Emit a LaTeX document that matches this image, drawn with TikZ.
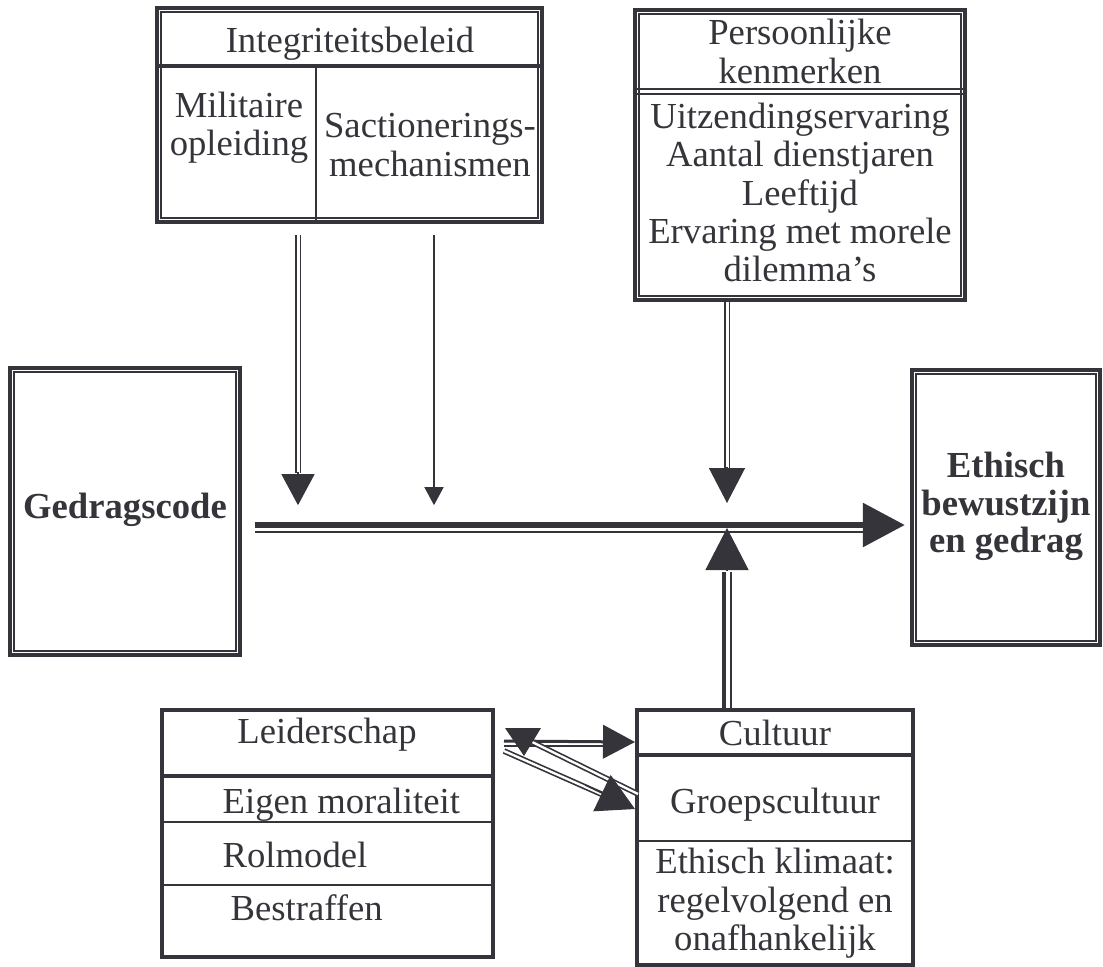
\documentclass[tikz,border=0pt]{standalone}
\usepackage{fontspec}
\setmainfont{Liberation Serif}
\usetikzlibrary{arrows.meta,calc,positioning}
\definecolor{ink}{RGB}{52,52,58}
\tikzset{
  box/.style={draw=ink, line width=1.3pt, inner sep=0pt},
  rim/.style={draw=ink, line width=0.5pt},
  lbl/.style={font=\fontsize{11}{11.5}\selectfont, text=ink, align=center, inner sep=0pt},
  bold lbl/.style={lbl, font=\fontsize{11}{11.2}\selectfont\bfseries},
  sep thick/.style={draw=ink, line width=1.1pt},
  sep thin/.style={draw=ink, line width=0.7pt},
  twin/.style={draw=ink, double=white, double distance=0.9pt, line width=0.55pt},
  tip big/.style={draw=ink, fill=ink, line width=0.4pt, -{Triangle[length=12.6pt,width=12.9pt]}},
  tip mid/.style={draw=ink, fill=ink, line width=0.4pt, -{Triangle[length=9.6pt,width=10pt]}},
  tip small/.style={draw=ink, line width=0.5pt, -{Triangle[length=5.4pt,width=5.7pt]}}
}
\begin{document}
\begin{tikzpicture}[x=0.3pt,y=-0.3pt]
  \useasboundingbox (0,0) rectangle (1103,967);

  % boxes
  \node[box, minimum width=115.5pt, minimum height=64.2pt] (integ) at (349.5,115) {};
  \node[box, minimum width=99pt, minimum height=87pt] (pers) at (800,155) {};
  \node[box, minimum width=69pt, minimum height=86.1pt] (gedrag) at (125,511.5) {};
  \node[box, minimum width=56.4pt, minimum height=82.5pt] (ethisch) at (1006,507.5) {};
  \node[box, line width=1.2pt, minimum width=99.3pt, minimum height=74.1pt] (leider) at (327.5,833.5) {};
  \node[box, line width=1.2pt, minimum width=82.8pt, minimum height=76.5pt] (cultuur) at (775,837.5) {};
  \foreach \b in {integ,pers,gedrag,ethisch}
    \draw[rim] ([shift={(6,6)}]\b.north west) rectangle ([shift={(-6,-6)}]\b.south east);

  % dividers
  \draw[sep thick] ([shift={(0,60)}]integ.north west) -- ([shift={(0,60)}]integ.north east);
  \draw[sep thin] ([shift={(161,60)}]integ.north west) -- ([shift={(161,0)}]integ.south west);
  \draw[rim] ([shift={(0,81)}]pers.north west) -- ([shift={(0,81)}]pers.north east);
  \draw[sep thin] ([shift={(0,86)}]pers.north west) -- ([shift={(0,86)}]pers.north east);
  \draw[sep thick] ([shift={(0,68)}]leider.north west) -- ([shift={(0,68)}]leider.north east);
  \draw[sep thin] ([shift={(0,114)}]leider.north west) -- ([shift={(0,114)}]leider.north east);
  \draw[sep thin] ([shift={(0,177)}]leider.north west) -- ([shift={(0,177)}]leider.north east);
  \draw[sep thick] ([shift={(0,47)}]cultuur.north west) -- ([shift={(0,47)}]cultuur.north east);
  \draw[sep thin] ([shift={(0,133)}]cultuur.north west) -- ([shift={(0,133)}]cultuur.north east);

  % texts
  \node[lbl, anchor=base] (integ title) at (350,52) {Integriteitsbeleid};
  \node[lbl] (opleiding) at (239,128) {Militaire\\opleiding};
  \node[lbl] (sanctie) at (430,145) {Sactionerings-\\mechanismen};
  \node[lbl] (pers title) at (800,51.5) {Persoonlijke\\kenmerken};
  \node[lbl] (pers list) at (800,192.5) {Uitzendingservaring\\Aantal dienstjaren\\Leeftijd\\Ervaring met morele\\dilemma's};
  \node[bold lbl, anchor=base] (gedrag text) at (125,518) {Gedragscode};
  \node[bold lbl] (ethisch text) at (1006,506.5) {Ethisch\\bewustzijn\\en gedrag};
  \node[lbl, anchor=base] (leider title) at (327,743) {Leiderschap};
  \node[lbl, anchor=base west] (moraal) at (222,813) {Eigen moraliteit};
  \node[lbl, anchor=base west] (rolmodel) at (222,867) {Rolmodel};
  \node[lbl, anchor=base west] (straf) at (230,920) {Bestraffen};
  \node[lbl, anchor=base] (cultuur title) at (775,745) {Cultuur};
  \node[lbl, anchor=base] (groep) at (775,813) {Groepscultuur};
  \node[lbl] (klimaat) at (775,903.5) {Ethisch klimaat:\\regelvolgend en\\onafhankelijk};

  % arrows
  \coordinate (hub) at (727,527);
  \draw[draw=ink, line width=0.6pt] ([shift={(13,20.5)}]gedrag.east) -- ([shift={(-45,24.5)}]ethisch.west);
  \draw[draw=ink, line width=1.8pt, -{Triangle[length=12.6pt,width=12.9pt]}] ([shift={(13,13.5)}]gedrag.east) -- ([shift={(-5,17.5)}]ethisch.west);

  \draw[draw=ink, line width=1.3pt] ([shift={(-51,0)}]cultuur.north) -- ([shift={(-3,45)}]hub);
  \draw[draw=ink, line width=0.7pt] ([shift={(-44,0)}]cultuur.north) -- ([shift={(4,45)}]hub);
  \draw[tip big] ([shift={(0,44)}]hub) -- ([shift={(0,1)}]hub);

  \draw[twin] (pers.south -| hub) -- ([shift={(0,-57)}]hub);
  \draw[tip big, -{Triangle[length=10.5pt,width=10.8pt]}] ([shift={(0,-60)}]hub) -- ([shift={(0,-24)}]hub);

  \draw[twin] ([shift={(-51.5,11)}]integ.south) -- ([shift={(-51.5,249)}]integ.south);
  \draw[tip big, -{Triangle[length=9.3pt,width=9.9pt]}] ([shift={(-51.5,248)}]integ.south) -- ([shift={(-51.5,281)}]integ.south);
  \draw[tip small] ([shift={(84.5,11)}]integ.south) -- ([shift={(84.5,281)}]integ.south);

  \draw[draw=ink, line width=0.5pt] ([shift={(9,38)}]leider.north east) -- ([shift={(-30,38)}]cultuur.north west);
  \draw[tip mid, line width=0.9pt] ([shift={(9,33)}]leider.north east) -- ([shift={(0,34)}]cultuur.north west);
  \draw[twin, line width=0.5pt, double distance=0.7pt] ([shift={(29,30)}]leider.north east) -- ([shift={(3,86)}]cultuur.north west);
  \draw[twin, line width=0.5pt, double distance=0.7pt, shorten >=9pt] ([shift={(9,43)}]leider.north east) -- ([shift={(0,101)}]cultuur.north west);
  \draw[tip mid, -{Triangle[length=11pt,width=12pt]}] ([shift={(90,77)}]leider.north east) -- ([shift={(0,101)}]cultuur.north west);
  \fill[ink] ([shift={(10,20)}]leider.north east) -- ++(36,0) -- ++(-17,28) -- cycle;
\end{tikzpicture}
\end{document}
